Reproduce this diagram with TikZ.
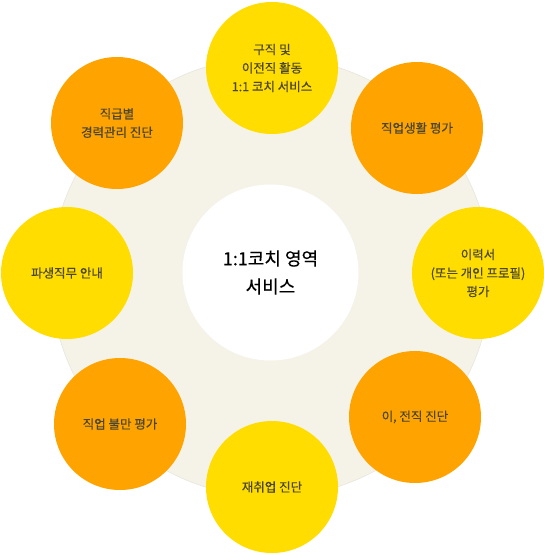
\documentclass[tikz,border=0pt]{standalone}
\usepackage{fontspec}
\setmainfont{Noto Sans CJK KR}
\newfontfamily\medfont{Noto Sans CJK KR}[FakeBold=0.35]
\definecolor{beige}{HTML}{F5F3E8}
\definecolor{beigeedge}{HTML}{E8E6DC}
\definecolor{cyellow}{HTML}{FFDD00}
\definecolor{corange}{HTML}{FFA300}
\definecolor{ctext}{HTML}{4A4630}
\tikzset{
  bubble/.style={circle, minimum size=132pt, inner sep=0pt, align=center, text=ctext, font=\medfont\fontsize{12.5pt}{18.5pt}\selectfont},
  ybub/.style={bubble, fill=cyellow},
  obub/.style={bubble, fill=corange},
}
\begin{document}
\begin{tikzpicture}[x=1pt,y=-1pt]
\useasboundingbox (0,0) rectangle (544,555);
\node[circle, fill=beige, draw=beigeedge, line width=0.6pt, minimum size=440pt, inner sep=0pt] (bg) at (271,277) {};
\node[circle, fill=white, minimum size=176pt, inner sep=0pt, align=center, font=\medfont\fontsize{18pt}{28pt}\selectfont] (center) at (270.5,272.5) {1:1코치 영역\\서비스};
\node[ybub] (top) at (272,68) {구직 및\\이전직 활동\\1:1 코치 서비스};
\node[obub] (ur) at (417,128) {직업생활 평가};
\node[ybub] (r) at (478,273) {이력서\\(또는 개인 프로필)\\평가};
\node[obub] (lr) at (415,417) {이, 전직 진단};
\node[ybub] (b) at (272,487) {재취업 진단};
\node[obub] (ll) at (120,424) {직업 불만 평가};
\node[ybub] (l) at (67,273) {파생직무 안내};
\node[obub] (ul) at (117,123) {직급별\\경력관리 진단};
\end{tikzpicture}
\end{document}
